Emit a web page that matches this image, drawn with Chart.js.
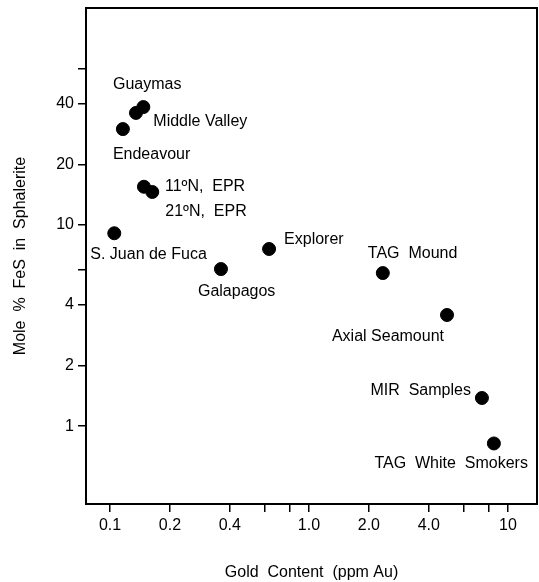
<!DOCTYPE html>
<html>
<head>
<meta charset="utf-8">
<script src="https://cdn.jsdelivr.net/npm/chart.js@4/dist/chart.umd.min.js"></script>
<style>
  body { margin: 0; background: #fff; }
  canvas { display: block; }
</style>
</head>
<body>
<canvas id="gold-chart" width="539" height="582"></canvas>
<script>
// Vent sites: gold content vs FeS in sphalerite
const sites = ['Guaymas', 'Middle Valley', 'Endeavour', '11ºN,  EPR', '21ºN,  EPR', 'S. Juan de Fuca',
    'Galapagos', 'Explorer', 'TAG  Mound', 'Axial Seamount', 'MIR  Samples', 'TAG  White  Smokers'];
const goldPpm = [0.135, 0.147, 0.116, 0.148, 0.163, 0.105, 0.361, 0.63, 2.35, 4.94, 7.4, 8.5];
const feSMolePct = [36.1, 38.6, 30.0, 15.5, 14.6, 9.1, 6.04, 7.6, 5.77, 3.57, 1.38, 0.82];

const xTickValues = [0.1, 0.2, 0.4, 0.6, 0.8, 1, 2, 4, 6, 8, 10];
const xTickLabels = ['0.1', '0.2', '0.4', '', '', '1.0', '2.0', '4.0', '', '', '10'];
const yTickValues = [1, 2, 4, 6, 10, 20, 40, 60];
const yTickLabels = ['1', '2', '4', '', '10', '20', '40', ''];

// label placement next to each dot: [dx, dy, align]
const labelPlacement = [
    [-23, -28, 'left'], [10, 15, 'left'], [-10, 26, 'left'], [21, 0, 'left'],
    [13, 20, 'left'], [-24, 21, 'left'], [-23, 23, 'left'], [15, -9, 'left'],
    [-15, -19, 'left'], [-3, 22, 'right'], [-11, -7, 'right'], [34, 20, 'right']
];

const FONT = '"Liberation Sans", Arial, sans-serif';
const INK = '#000';

// Frame around the plot area and the site names
const annotate = {
    id: 'annotate',
    afterDatasetsDraw(chart) {
        const {ctx, chartArea} = chart;
        ctx.save();
        ctx.strokeStyle = INK;
        ctx.lineWidth = 2;
        ctx.strokeRect(chartArea.left, chartArea.top, chartArea.right - chartArea.left, chartArea.bottom - chartArea.top);

        ctx.font = '16px ' + FONT;
        ctx.fillStyle = INK;
        ctx.textBaseline = 'middle';
        chart.getDatasetMeta(0).data.forEach((pt, i) => {
            const [dx, dy, align] = labelPlacement[i];
            ctx.textAlign = align;
            ctx.fillText(sites[i], pt.x + dx, pt.y + dy);
        });
        ctx.restore();
    }
};

function setTicks(values) {
    return scale => {
        scale.ticks = values.map(v => ({value: v}));
    };
}

const ctx = document.getElementById('gold-chart').getContext('2d');
new Chart(ctx, {
    type: 'scatter',
    data: {
        datasets: [{
            data: goldPpm.map((x, i) => ({x: x, y: feSMolePct[i]})),
            backgroundColor: INK,
            borderColor: INK,
            pointRadius: 6.5,
            pointHoverRadius: 6.5
        }]
    },
    options: {
        responsive: false,
        animation: false,
        devicePixelRatio: 1,
        layout: {autoPadding: false, padding: {top: 8, right: 2, left: 0, bottom: 0}},
        plugins: {legend: {display: false}, tooltip: {enabled: false}},
        scales: {
            x: {
                type: 'logarithmic',
                min: 0.0757,
                max: 14,
                afterBuildTicks: setTicks(xTickValues),
                afterFit: s => {
                    s.height = 78;
                    s.paddingLeft = 0;
                    s.paddingRight = 0;
                },
                border: {display: true, color: INK, width: 2},
                grid: {drawOnChartArea: false, drawTicks: true, tickLength: 8, color: INK, lineWidth: 1.5},
                ticks: {
                    autoSkip: false,
                    maxRotation: 0,
                    padding: 4,
                    color: INK,
                    font: {family: FONT, size: 16},
                    callback: (v, i) => xTickLabels[i]
                },
                title: {
                    display: true,
                    text: 'Gold  Content  (ppm Au)',
                    color: INK,
                    font: {family: FONT, size: 16},
                    padding: {top: 0, bottom: 0}
                }
            },
            y: {
                type: 'logarithmic',
                min: 0.41,
                max: 120,
                afterBuildTicks: setTicks(yTickValues),
                afterFit: s => {
                    s.width = 86;
                    s.paddingTop = 0;
                    s.paddingBottom = 0;
                },
                border: {display: true, color: INK, width: 2},
                grid: {drawOnChartArea: false, drawTicks: true, tickLength: 8, color: INK, lineWidth: 1.5},
                ticks: {
                    autoSkip: false,
                    padding: 4,
                    color: INK,
                    font: {family: FONT, size: 16},
                    callback: (v, i) => yTickLabels[i]
                },
                title: {
                    display: true,
                    text: 'Mole  %  FeS  in  Sphalerite',
                    color: INK,
                    font: {family: FONT, size: 16},
                    padding: {top: 11, bottom: 0}
                }
            }
        }
    },
    plugins: [annotate]
});
</script>
</body>
</html>
